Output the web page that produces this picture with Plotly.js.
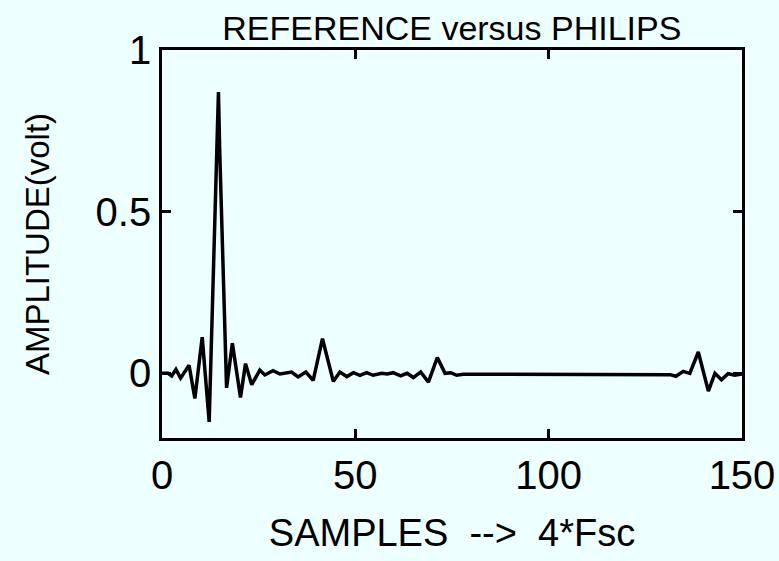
<!DOCTYPE html>
<html>
<head>
<meta charset="utf-8">
<script src="https://cdn.plot.ly/plotly-3.0.1.min.js"></script>
<style>html,body{margin:0;padding:0;background:#eeffff;}#chart{width:779px;height:561px;}</style>
</head>
<body>
<div id="chart"></div>
<script>
// Sample positions (4*Fsc) and amplitudes (volt)
const samples = [0, 1.6, 2.5, 3.6, 4.8, 7.0, 8.5, 10.4, 12.2, 14.3, 14.6, 14.9, 16.7, 18.2, 20.3, 21.6, 23.2, 25.3, 26.6, 28.7, 30.5, 33.5, 35.2, 37.2, 39.1, 41.5, 44.3, 46.0, 47.8, 49.5, 51.2, 52.9, 54.6, 56.8, 58.2, 59.8, 61.7, 63.4, 65.0, 66.9, 68.9, 71.2, 73.2, 74.7, 76.2, 77.9, 131.4, 132.9, 134.8, 136.5, 138.7, 141.3, 143.0, 144.7, 146.4, 148.1, 150];
const amplitude = [0, 0.0, -0.008, 0.012, -0.015, 0.025, -0.078, 0.112, -0.15, 0.70, 0.87, 0.70, -0.045, 0.093, -0.075, 0.03, -0.035, 0.01, -0.005, 0.008, -0.002, 0.004, -0.011, 0.004, -0.022, 0.107, -0.025, 0.004, -0.01, 0.002, -0.006, 0.002, -0.006, 0.0, -0.002, 0.002, -0.008, 0.0, -0.013, 0.004, -0.027, 0.049, 0.0, 0.002, -0.006, -0.003, -0.004, -0.009, 0.006, 0.0, 0.066, -0.055, 0.0, -0.02, -0.001, -0.006, -0.002];
const xTicks = [0, 50, 100, 150];
const yTicks = [0, 0.5, 1];
const yTickLabels = ['0', '0.5', '1'];

const font = 'Liberation Sans, Arial, sans-serif';

const trace = {
  x: samples, y: amplitude, type: 'scatter', mode: 'lines',
  line: {color: '#000', width: 3.5}, hoverinfo: 'x+y'
};

const layout = {
  width: 779, height: 561,
  paper_bgcolor: '#eeffff', plot_bgcolor: '#eeffff',
  margin: {l: 162, r: 37, t: 50, b: 123},
  showlegend: false,
  title: {text: 'REFERENCE versus PHILIPS', x: 0.58, xanchor: 'center', y: 0.95, yanchor: 'middle',
          font: {family: font, size: 34, color: '#000'}},
  xaxis: {
    range: [0, 150], tickvals: xTicks, ticktext: xTicks.map(String),
    ticks: 'inside', ticklen: 9, tickwidth: 2.5, tickcolor: '#000',
    showline: true, linewidth: 2.8, linecolor: '#000', mirror: 'ticks',
    showgrid: false, zeroline: false,
    tickfont: {family: font, size: 40, color: '#000'},
    title: {text: 'SAMPLES  -->  4*Fsc', standoff: 24, font: {family: font, size: 38, color: '#000'}}
  },
  yaxis: {
    range: [-0.2, 1], tickvals: yTicks, ticktext: yTickLabels,
    ticks: 'inside', ticklen: 9, tickwidth: 2.5, tickcolor: '#000',
    showline: true, linewidth: 2.8, linecolor: '#000', mirror: 'ticks',
    showgrid: false, zeroline: false,
    tickfont: {family: font, size: 40, color: '#000'},
    title: {text: 'AMPLITUDE(volt)', standoff: 36, font: {family: font, size: 33, color: '#000'}}
  }
};

Plotly.newPlot('chart', [trace], layout, {displayModeBar: false, staticPlot: true});
</script>
</body>
</html>
